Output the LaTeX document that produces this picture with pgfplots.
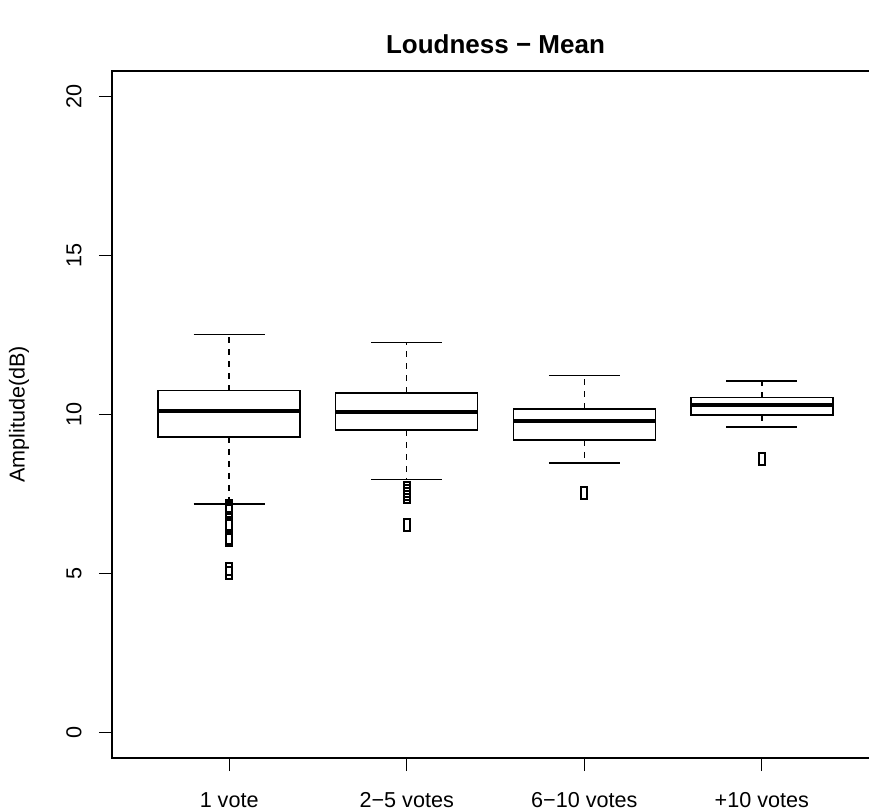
\documentclass[border=0pt]{standalone}
\usepackage{fontspec}
\setmainfont{Liberation Sans}
\usepackage{pgfplots}
\pgfplotsset{compat=1.18}
\usepgfplotslibrary{statistics}

% R style whiskers: dashed stem, solid cap
\pgfplotsset{
  boxplot/draw/whisker/.code 2 args={%
    \draw[black, line width=0.75pt, dash pattern=on 3pt off 3pt]
      (boxplot cs:#1) -- (boxplot cs:#2);
    \draw[black, line width=0.75pt]
      (boxplot whisker cs:#2,0) -- (boxplot whisker cs:#2,1);
  },
  outl/.style={black, solid, line width=0.75pt, mark=square, mark size=3pt,
    mark options={xscale=0.5, line width=1pt, fill=white, solid}},
}

\begin{document}
\begin{tikzpicture}
\begin{axis}[
  scale only axis,
  width=383.5pt, height=343.5pt,
  xmin=0.34, xmax=4.66,
  ymin=-0.8, ymax=20.8,
  axis line style={line width=0.75pt},
  xtick={1,2,3,4},
  xticklabels={1 vote, 2−5 votes, 6−10 votes, +10 votes},
  ytick={0,5,10,15,20},
  xtick pos=bottom, ytick pos=left,
  tick align=outside,
  major tick length=6.5pt,
  every tick/.style={black, line width=0.6pt},
  /pgf/number format/assume math mode=true,
  ticklabel style={font=\fontsize{10.8}{13}\selectfont},
  yticklabel style={rotate=90, anchor=south},
  xticklabel style={anchor=north},
  xticklabel shift=7.2pt,
  yticklabel shift=5.2pt,
  ylabel={Amplitude(dB)},
  ylabel style={font=\fontsize{10.8}{13}\selectfont,
    at={(axis description cs:-0.1213,0.5)}, anchor=center},
  title={Loudness − Mean},
  title style={font=\bfseries\fontsize{13}{15}\selectfont,
    at={(axis description cs:0.5,1)}, anchor=base, yshift=3pt},
  boxplot/draw direction=y,
  boxplot/box extend=0.8,
  boxplot/whisker extend=0.4,
  boxplot/every box/.style={line width=0.75pt, fill=white},
  boxplot/every median/.style={line width=2pt},
]
\addplot[outl, boxplot prepared={draw position=1,
  lower whisker=7.19, lower quartile=9.30, median=10.12,
  upper quartile=10.75, upper whisker=12.51}]
  table[row sep=\\, y index=0] {7.13\\ 7.05\\ 6.97\\ 6.55\\ 6.48\\ 6.12\\ 6.05\\ 5.15\\ 5.02\\};
\addplot[outl, boxplot prepared={draw position=2,
  lower whisker=7.95, lower quartile=9.52, median=10.09,
  upper quartile=10.68, upper whisker=12.26}]
  table[row sep=\\, y index=0] {7.69\\ 7.60\\ 7.50\\ 7.41\\ 6.53\\};
\addplot[outl, boxplot prepared={draw position=3,
  lower whisker=8.48, lower quartile=9.20, median=9.80,
  upper quartile=10.18, upper whisker=11.22}]
  table[row sep=\\, y index=0] {7.54\\};
\addplot[outl, boxplot prepared={draw position=4,
  lower whisker=9.61, lower quartile=9.99, median=10.31,
  upper quartile=10.53, upper whisker=11.06}]
  table[row sep=\\, y index=0] {8.61\\};
\end{axis}
\pgfresetboundingbox
\useasboundingbox (-56pt,-26.5pt) rectangle (378.5pt,379pt);
\end{tikzpicture}
\end{document}
